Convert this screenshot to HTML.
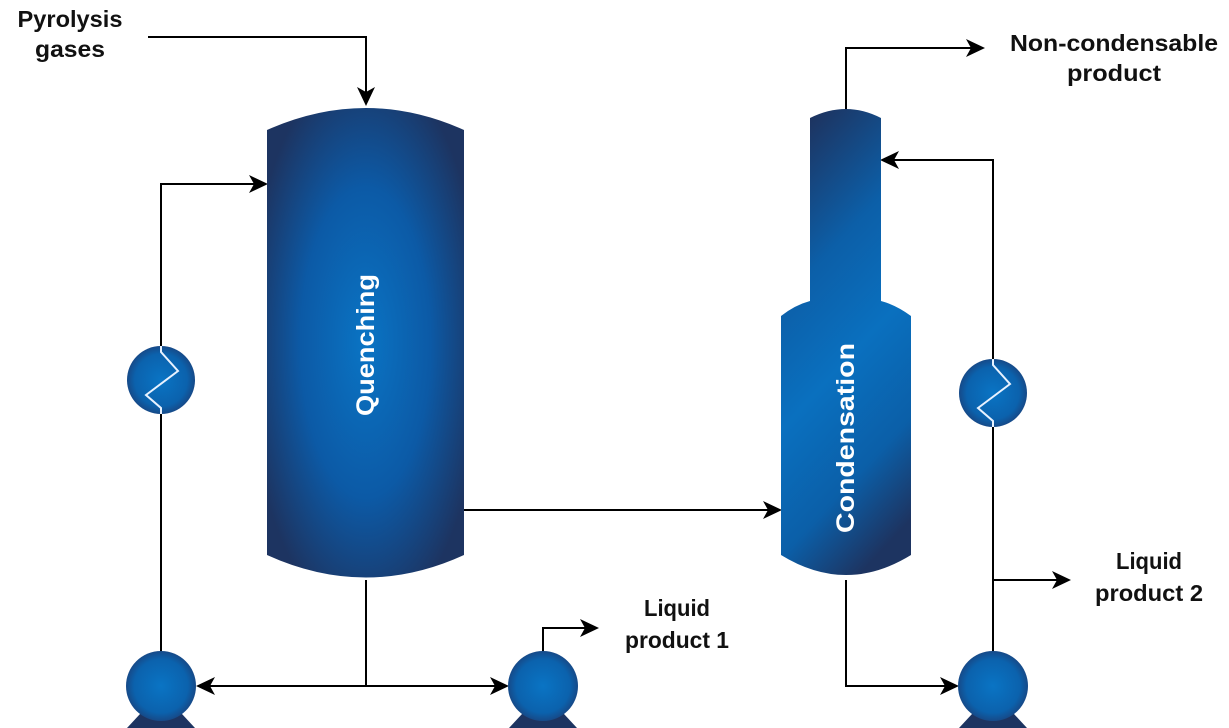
<!DOCTYPE html>
<html><head><meta charset="utf-8"><style>
html,body{margin:0;padding:0;background:#fff;width:1229px;height:728px;overflow:hidden}
text{font-family:"Liberation Sans",sans-serif;font-weight:bold;font-size:23px;fill:#111}
</style></head><body>
<svg width="1229" height="728" viewBox="0 0 1229 728" xmlns="http://www.w3.org/2000/svg">
<defs>
<radialGradient id="gq" cx="0.5" cy="0.5" r="0.6">
<stop offset="0" stop-color="#0a74c4"/><stop offset="0.55" stop-color="#0c5aa6"/><stop offset="1" stop-color="#1d3461"/></radialGradient>
<linearGradient id="gc" x1="0.3" y1="0" x2="0.6" y2="1">
<stop offset="0" stop-color="#1d3461"/><stop offset="0.3" stop-color="#0c5fa8"/><stop offset="0.55" stop-color="#0a70bf"/><stop offset="0.8" stop-color="#0b5fa8"/><stop offset="1" stop-color="#1d3461"/></linearGradient>
<radialGradient id="gp" cx="0.5" cy="0.5" r="0.55">
<stop offset="0" stop-color="#0a74c4"/><stop offset="0.7" stop-color="#0b62ad"/><stop offset="1" stop-color="#1b3f78"/></radialGradient>
<path id="ar" d="M0,0 L-19,-9 L-14,0 L-19,9 Z" fill="#000"/>
</defs>
<g stroke="#000" stroke-width="2" fill="none">
<polyline points="148,37 366,37 366,96"/>
<polyline points="161,655 161,184 258,184"/>
<line x1="366" y1="580" x2="366" y2="686"/>
<line x1="366" y1="686" x2="206" y2="686"/>
<line x1="366" y1="686" x2="499" y2="686"/>
<polyline points="543,652 543,628 589,628"/>
<line x1="464" y1="510" x2="772" y2="510"/>
<polyline points="846,110 846,48 975,48"/>
<polyline points="993,652 993,160 890,160"/>
<line x1="993" y1="580" x2="1061" y2="580"/>
<polyline points="846,580 846,686 949,686"/>
</g>
<use href="#ar" transform="translate(366,106) rotate(90)"/>
<use href="#ar" transform="translate(268,184)"/>
<use href="#ar" transform="translate(196,686) rotate(180)"/>
<use href="#ar" transform="translate(509,686)"/>
<use href="#ar" transform="translate(599,628)"/>
<use href="#ar" transform="translate(782,510)"/>
<use href="#ar" transform="translate(985,48)"/>
<use href="#ar" transform="translate(880,160) rotate(180)"/>
<use href="#ar" transform="translate(1071,580)"/>
<use href="#ar" transform="translate(959,686)"/>
<path d="M267,130 Q366,86 464,130 L464,555 Q366,600 267,555 Z" fill="url(#gq)"/>
<path d="M810,118 Q846,100 881,118 L881,301 Q896,305 911,316 L911,555 Q846,595 781,555 L781,316 Q795,305 810,301 Z" fill="url(#gc)"/>
<g>
<circle cx="161" cy="380" r="34" fill="url(#gp)"/>
<polyline points="161,346 161,352 178,371 146,395 161,408 161,414" stroke="#e8f2ff" stroke-width="2" fill="none"/>
<circle cx="993" cy="393" r="34" fill="url(#gp)"/>
<polyline points="993,359 993,365 1010,384 978,408 993,421 993,427" stroke="#e8f2ff" stroke-width="2" fill="none"/>
</g>
<g>
<path d="M127,728 L140,714 L182,714 L195,728 Z" fill="#1d3461"/>
<circle cx="161" cy="686" r="35" fill="url(#gp)"/>
<path d="M509,728 L522,714 L564,714 L577,728 Z" fill="#1d3461"/>
<circle cx="543" cy="686" r="35" fill="url(#gp)"/>
<path d="M959,728 L972,714 L1014,714 L1027,728 Z" fill="#1d3461"/>
<circle cx="993" cy="686" r="35" fill="url(#gp)"/>
</g>
<text x="0" y="0" transform="translate(374,345) rotate(-90)" text-anchor="middle" style="fill:#fff;font-size:25px" textLength="142" lengthAdjust="spacingAndGlyphs">Quenching</text>
<text x="0" y="0" transform="translate(854,438) rotate(-90)" text-anchor="middle" style="fill:#fff;font-size:25px" textLength="190" lengthAdjust="spacingAndGlyphs">Condensation</text>
<text x="70" y="27" text-anchor="middle" textLength="105" lengthAdjust="spacingAndGlyphs">Pyrolysis</text>
<text x="70" y="57" text-anchor="middle" textLength="70" lengthAdjust="spacingAndGlyphs">gases</text>
<text x="1114" y="51" text-anchor="middle" textLength="208" lengthAdjust="spacingAndGlyphs">Non-condensable</text>
<text x="1114" y="81" text-anchor="middle" textLength="94" lengthAdjust="spacingAndGlyphs">product</text>
<text x="677" y="616" text-anchor="middle" textLength="66" lengthAdjust="spacingAndGlyphs">Liquid</text>
<text x="677" y="648" text-anchor="middle" textLength="104" lengthAdjust="spacingAndGlyphs">product 1</text>
<text x="1149" y="569" text-anchor="middle" textLength="66" lengthAdjust="spacingAndGlyphs">Liquid</text>
<text x="1149" y="601" text-anchor="middle" textLength="108" lengthAdjust="spacingAndGlyphs">product 2</text>
</svg>
</body></html>
